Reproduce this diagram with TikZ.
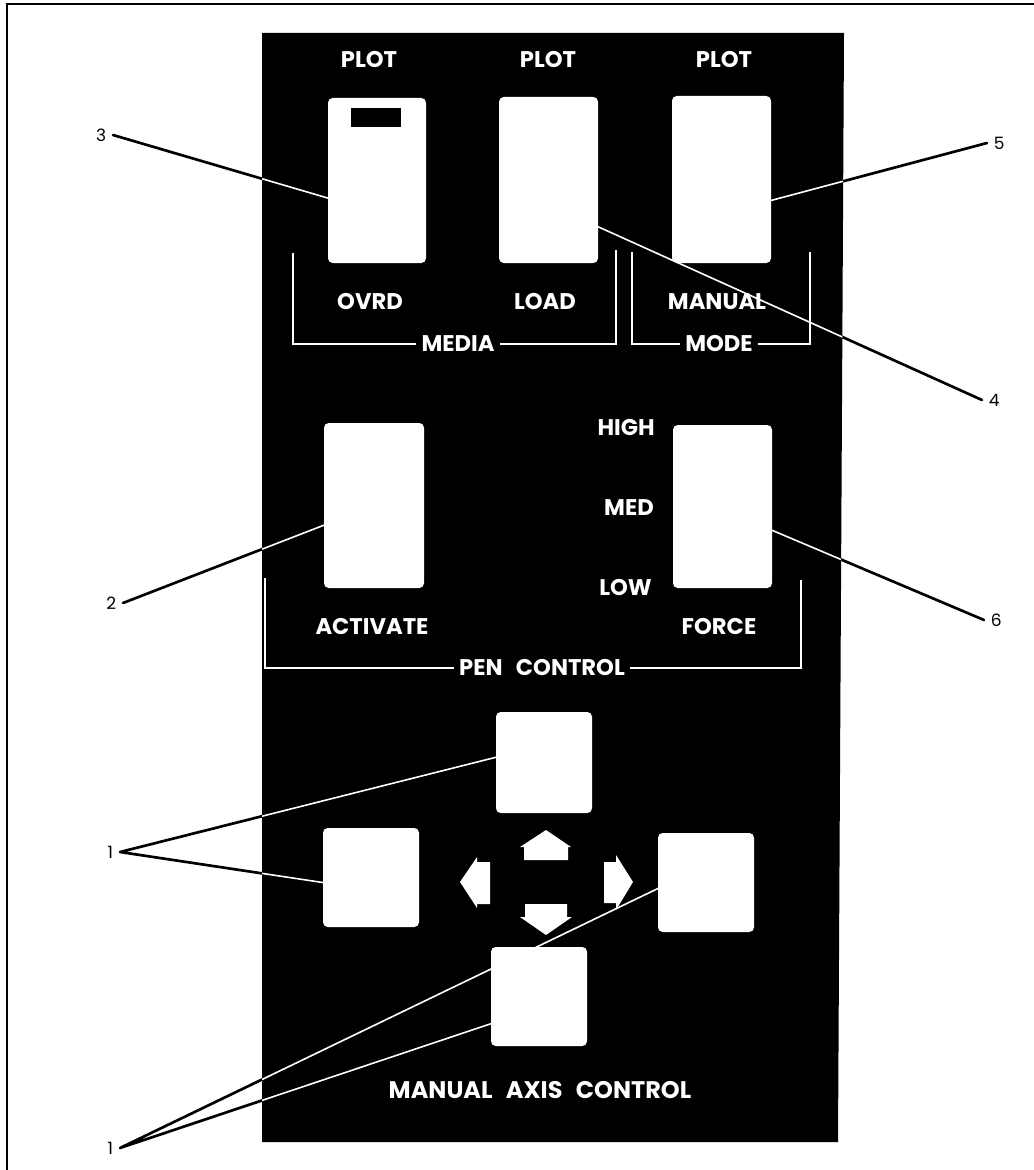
\documentclass[tikz,border=0pt]{standalone}
\usepackage{fontspec}
\setmainfont{Poppins}
\begin{document}
\begin{tikzpicture}[x=0.75pt,y=-0.75pt,
  btn/.style={rectangle, fill=white, rounded corners=3.5pt, inner sep=0pt},
  lbl/.style={text=white, font=\fontsize{17}{19}\selectfont\bfseries, inner sep=0pt},
  big/.style={text=white, font=\fontsize{18}{20}\selectfont\bfseries, inner sep=0pt},
  num/.style={text=black, font=\fontsize{12.75}{15}\selectfont, inner sep=5pt},
  brk/.style={draw=white, line width=1.5pt},
  leadout/.style={draw=black, line width=2pt, line cap=round, line join=round},
  leadin/.style={draw=white, line width=1.2pt},
  arrowshape/.style={fill=white},
  ]
\useasboundingbox (0,0) rectangle (1034,1170);
% frame
\draw[line width=1.5pt] (7,1170) -- (7,4.5) -- (1034,4.5);

% panel corners
\coordinate (p1) at (262,33);
\coordinate (p2) at (844,33);
\coordinate (p3) at (838,1142);
\coordinate (p4) at (262,1142);

% callout numbers
\node[num, anchor=east] (n3) at (113,135) {3};
\node[num, anchor=east] (n2) at (123,603) {2};
\node[num, anchor=east] (n1a) at (120,852) {1};
\node[num, anchor=east] (n1b) at (120,1148) {1};
\node[num, anchor=west] (n4) at (982,400) {4};
\node[num, anchor=west] (n5) at (987,143) {5};
\node[num, anchor=west] (n6) at (984,620) {6};

% leader targets on the buttons
\coordinate (t3) at (331,199);
\coordinate (t4) at (592,224);
\coordinate (t5) at (769,201);
\coordinate (t2) at (327,524);
\coordinate (t6) at (769,529);
\coordinate (t1a) at (501,756);
\coordinate (t1b) at (326,883);
\coordinate (t1c) at (661,887);
\coordinate (t1d) at (493,1023);

% black part of the leaders (outside the panel)
\draw[leadout] (n3.east) -- (t3);
\draw[leadout] (n2.east) -- (t2);
\draw[leadout] (n4.west) -- (t4);
\draw[leadout] (n5.west) -- (t5);
\draw[leadout] (n6.west) -- (t6);
\draw[leadout] (t1a) -- (n1a.east) -- (t1b);
\draw[leadout] (t1c) -- (n1b.east) -- (t1d);

% panel
\fill[black] (p1) -- (p2) -- (p3) -- (p4) -- cycle;

% texts
\node[lbl] (plot3) at (369,59.5) {PLOT};
\node[lbl] (plot4) at (548,59.5) {PLOT};
\node[lbl] (plot5) at (724,59.5) {PLOT};
\node[lbl] (ovrd) at (370,302) {OVRD};
\node[lbl] (load) at (545,302) {LOAD};
\node[lbl] (manual) at (717,302) {MANUAL};
\node[lbl, inner xsep=4pt] (media) at (458,344) {MEDIA};
\node[lbl, inner xsep=4pt] (mode) at (719,344) {MODE};
\node[lbl, anchor=east] (high) at (655,428) {HIGH};
\node[lbl, anchor=east] (med) at (654,508) {MED};
\node[lbl, anchor=east] (low) at (652,588) {LOW};
\node[lbl] (activate) at (372,627) {ACTIVATE};
\node[lbl] (force) at (719,627) {FORCE};
\node[lbl, inner xsep=4pt] (pen) at (542,668) {PEN\hspace{10pt}CONTROL};
\node[big] (mac) at (540,1090) {MANUAL\hspace{10pt}AXIS\hspace{10pt}CONTROL};

% brackets
\draw[brk] (293,253) |- (media.west);
\draw[brk] (media.east) -| (616,250);
\draw[brk] (632,252) |- (mode.west);
\draw[brk] (mode.east) -| (810,252);
\draw[brk] (265,578) |- (pen.west);
\draw[brk] (pen.east) -| (801,580);

% buttons
\node[btn, minimum width=73.5pt, minimum height=123.75pt] (b3) at (377,180.5) {};
\node[btn, minimum width=74.25pt, minimum height=124.5pt] (b4) at (548.5,180) {};
\node[btn, minimum width=74.25pt, minimum height=125.25pt] (b5) at (721.5,179.5) {};
\node[btn, minimum width=75pt, minimum height=123.75pt] (b2) at (374,505.5) {};
\node[btn, minimum width=74.25pt, minimum height=122.25pt] (b6) at (722.5,506.5) {};
\node[btn, minimum width=72pt, minimum height=75.75pt] (bup) at (544,762.5) {};
\node[btn, minimum width=72pt, minimum height=74.25pt] (bleft) at (371,877.5) {};
\node[btn, minimum width=72pt, minimum height=74.25pt] (bright) at (706,882.5) {};
\node[btn, minimum width=72pt, minimum height=74.25pt] (bdown) at (539,996.5) {};
% indicator window on OVRD
\node[rectangle, fill=black, inner sep=0pt, minimum width=37.5pt, minimum height=14.25pt] (ind) at (376,117.5) {};

% direction arrows
\fill[arrowshape] (546,830) -- (571,847) -- (568,847) -- (568,860) -- (524,860) -- (524,847) -- (520,847) -- cycle;
\fill[arrowshape] (546,935) -- (572,917) -- (567,917) -- (567,904) -- (525,904) -- (525,917) -- (520,917) -- cycle;
\fill[arrowshape] (460,882) -- (477,857) -- (477,862) -- (490,862) -- (490,904) -- (477,904) -- (477,908) -- cycle;
\fill[arrowshape] (633,882) -- (616,855) -- (616,862) -- (604,862) -- (604,903) -- (616,903) -- (616,910) -- cycle;

% white part of the leaders (on the panel)
\begin{scope}
\clip (p1) -- (p2) -- (p3) -- (p4) -- cycle;
\draw[leadin] (n3.east) -- (t3);
\draw[leadin] (n2.east) -- (t2);
\draw[leadin] (n4.west) -- (t4);
\draw[leadin] (n5.west) -- (t5);
\draw[leadin] (n6.west) -- (t6);
\draw[leadin] (t1a) -- (n1a.east) -- (t1b);
\draw[leadin] (t1c) -- (n1b.east) -- (t1d);
\end{scope}
\end{tikzpicture}
\end{document}
